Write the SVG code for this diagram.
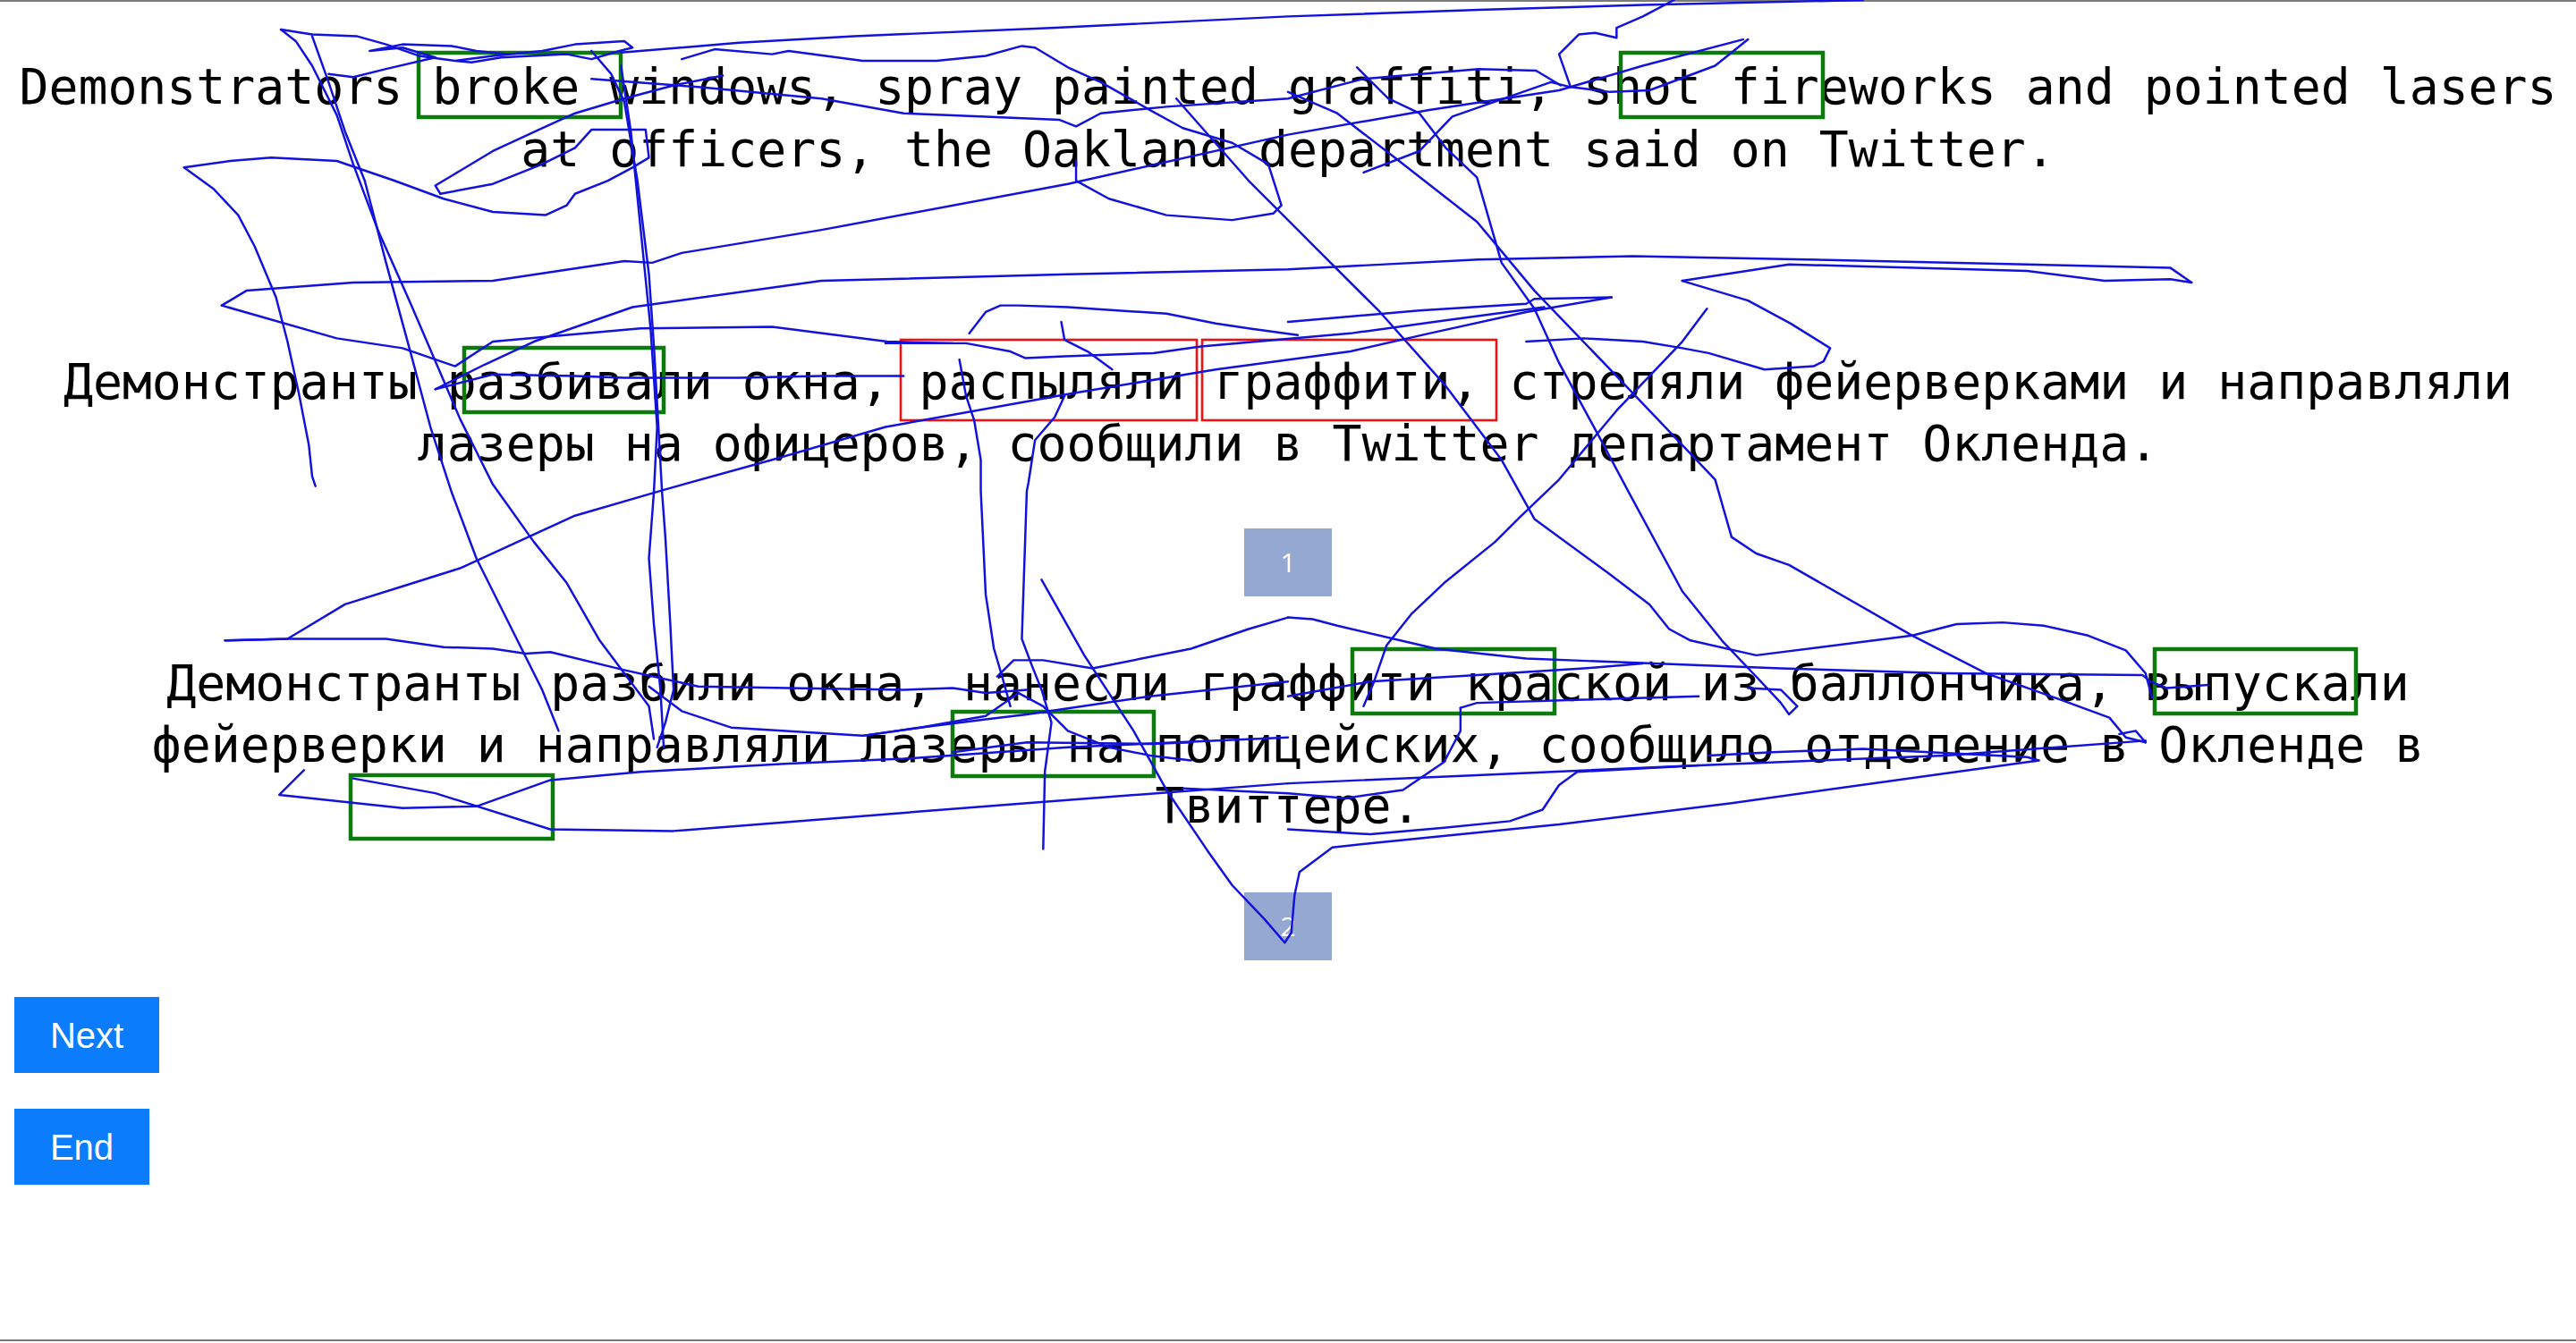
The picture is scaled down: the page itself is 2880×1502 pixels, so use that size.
<svg xmlns="http://www.w3.org/2000/svg" width="2880" height="1502" viewBox="0 0 2880 1502">
<style>
.t{font-family:"DejaVu Sans Mono","Liberation Mono",monospace;font-size:54.8px;fill:#000;text-anchor:middle}
.g{fill:none;stroke:#0d7a0d;stroke-width:4.5}
.r{fill:none;stroke:#ee1111;stroke-width:2.6}
.badge{fill:#94a8d1}
.bt{font-family:"Open Sans","Noto Sans",sans-serif;font-size:30px;fill:#fff;text-anchor:middle}
.btn{fill:#0b7cfc}
.btnt{font-family:"Liberation Sans",Arial,sans-serif;font-size:40px;fill:#fff;text-anchor:middle}
.s polyline{fill:none;stroke:#1212dc;stroke-width:1.35;stroke-linejoin:round;stroke-linecap:round}
</style>
<rect width="2880" height="1502" fill="#fff"/>
<line x1="0" y1="1" x2="2880" y2="1" stroke="#7a7a7a" stroke-width="2"/>
<line x1="0" y1="1499" x2="2880" y2="1499" stroke="#7a7a7a" stroke-width="2"/>

<g id="texts">
<text class="t" x="1440" y="116">Demonstrators broke windows, spray painted graffiti, shot fireworks and pointed lasers</text>
<text class="t" x="1440" y="186">at officers, the Oakland department said on Twitter.</text>
<text class="t" x="1440" y="446">Демонстранты разбивали окна, распыляли граффити, стреляли фейерверками и направляли</text>
<text class="t" x="1440" y="515">лазеры на офицеров, сообщили в Twitter департамент Окленда.</text>
<text class="t" x="1440" y="783">Демонстранты разбили окна, нанесли граффити краской из баллончика, выпускали</text>
<text class="t" x="1440" y="852">фейерверки и направляли лазеры на полицейских, сообщило отделение в Окленде в</text>
<text class="t" x="1440" y="920">Твиттере.</text>
</g>

<g id="boxes">
<rect class="g" x="468" y="59" width="226" height="72"/>
<rect class="g" x="1812" y="59" width="226" height="72"/>
<rect class="g" x="519" y="389" width="223" height="72"/>
<rect class="r" x="1007" y="380" width="331" height="90"/>
<rect class="r" x="1344" y="380" width="329" height="90"/>
<rect class="g" x="1512" y="726" width="226" height="72"/>
<rect class="g" x="2409" y="726" width="225" height="72"/>
<rect class="g" x="1065" y="796" width="225" height="72"/>
<rect class="g" x="392" y="867" width="226" height="71"/>
</g>

<g id="badge1"><rect class="badge" x="1391" y="591" width="98" height="76"/><text class="bt" x="1440" y="640">1</text></g>
<g id="badge2"><rect class="badge" x="1391" y="998" width="98" height="76"/><text class="bt" x="1440" y="1047">2</text></g>

<g id="btnNext"><rect class="btn" x="16" y="1115" width="162" height="85"/><text class="btnt" x="97" y="1172">Next</text></g>
<g id="btnEnd"><rect class="btn" x="16" y="1240" width="151" height="85"/><text class="btnt" x="91.5" y="1297">End</text></g>

<g id="scribbles" class="s" transform="scale(1.83673)">
<polyline points="378,32 450,26 520,22 640,17 784,10 900,6 1000,3 1134,0"/>
<polyline points="171,18 190,21 217,22 235,27 255,34 277,37 300,34 330,31 350,27 380,25 385,29 377,31 360,36 345,33 305,35 287,38 277,37"/>
<polyline points="200,45 215,47 235,42 265,35 245,29 225,31 245,27 275,28 290,31 310,33"/>
<polyline points="171,18 180,25 190,40 205,70 215,100 230,140 250,185 265,220 280,255 300,295 325,330 345,355 365,390 380,410 395,430 398,450"/>
<polyline points="190,22 200,50 210,80 222,110 235,160 250,215 262,260 275,300 290,340 310,380 330,420 340,445"/>
<polyline points="360,31 372,45 380,62 388,110 395,167 398,210 400,246 403,300 405,327 408,380 410,420 405,440 400,455"/>
<polyline points="378,40 384,80 390,140 396,200 400,260 398,300 395,340 398,380 402,420 404,455"/>
<polyline points="192,296 190,290 188,271 182,240 175,208 168,181 155,150 145,131 130,115 112,102 140,98 165,96 205,98 240,110 270,121 300,129 332,131 345,125 350,118 370,110 385,102 395,96 393,79 360,79 350,90 330,100 300,112 268,118"/>
<polyline points="268,118 265,113 280,104 300,92 330,78 350,69 380,60 410,52 440,46"/>
<polyline points="360,48 425,53 500,60 550,69 600,71 645,73 655,77 670,69 710,65 784,60 830,48 900,42 935,43 950,52"/>
<polyline points="135,186 150,177 215,172 300,171 380,159 397,160 415,154 500,140 650,112 784,82 870,67 949,55 1000,40 1061,24"/>
<polyline points="135,186 205,206 245,212 277,223 300,208 390,200 470,199 540,208 580,209"/>
<polyline points="265,237 300,228 350,229 380,230 450,230 500,229 550,229"/>
<polyline points="265,237 295,222 325,208 385,187 500,171 650,167 784,164 900,158 994,156 1100,158 1234,161 1321,163 1334,172"/>
<polyline points="1024,171 1089,161 1234,165 1281,171 1321,170 1334,172"/>
<polyline points="1024,171 1064,183 1090,197 1114,212 1110,220 1104,223 1074,225 1040,215 1024,212 1000,208 964,206 929,208"/>
<polyline points="137,390 175,389 210,368 245,357 280,346 350,314 405,298 470,280 539,260 650,240 740,225 822,214 870,203 929,190 981,181"/>
<polyline points="784,196 864,189 929,185 934,182 981,181"/>
<polyline points="539,209 588,209 615,214 624,218 648,217 702,215 731,211 822,203 880,195 940,187"/>
<polyline points="137,390 175,389 235,389 270,394 300,395 320,398 335,397 380,408 425,418 480,419 550,420 580,419 600,422 625,420"/>
<polyline points="395,418 415,433 445,443 525,448 560,443 600,438 625,435 700,424 784,415"/>
<polyline points="634,353 660,399 690,445 710,481 735,518 750,539 770,560 782,574 786,568 788,545 791,531 811,516 839,513 949,502 1054,489 1241,463"/>
<polyline points="1241,463 1234,461 1134,456 1079,458 1040,460"/>
<polyline points="784,477 899,472 1034,466 1084,464 1184,460 1306,451"/>
<polyline points="716,60 760,110 800,150 840,190 880,235 914,280 934,316 979,349 1004,368 1016,383 1029,390 1069,399 1164,387 1191,380 1219,379 1244,381 1271,387 1294,396 1306,410 1310,425"/>
<polyline points="826,41 845,60 864,69 880,90 899,108 914,160 934,188 949,221 974,267 991,299 1024,360 1049,391 1069,412 1084,428 1089,435 1094,430 1084,420 1064,419"/>
<polyline points="1039,188 1024,208 984,250 949,292 925,315 910,330 879,355 859,374 844,393 836,416 830,430"/>
<polyline points="784,56 814,69 849,96 899,135 934,177 984,229 1044,292 1054,327 1069,337 1089,344 1164,387 1209,410 1254,426 1284,437 1294,449 1306,452"/>
<polyline points="784,376 799,377 814,381 874,395 929,401 1084,407 1184,410 1304,411 1309,415 1319,419 1344,417"/>
<polyline points="784,376 760,383 725,395 665,407 635,402 617,402 607,412"/>
<polyline points="784,424 834,415 899,411 964,407 1000,404"/>
<polyline points="889,431 899,428 964,426 1034,424"/>
<polyline points="889,431 889,445 879,464 854,481 819,486 784,483 760,482 720,480"/>
<polyline points="784,505 834,508 879,504 919,500 939,493 949,478 960,470 1034,466"/>
<polyline points="185,469 170,484 245,492 290,491 335,475 390,470 480,465 550,462 650,455 784,449"/>
<polyline points="215,474 265,483 335,505 410,506 625,489 784,477"/>
<polyline points="525,448 560,443 600,436 620,422 635,430 650,445 675,455 700,460 725,463"/>
<polyline points="580,458 625,452 700,453 725,452"/>
<polyline points="584,219 588,241 593,256 597,280 597,299 600,362 605,395 610,412 615,430"/>
<polyline points="646,196 648,207 662,214 677,225"/>
<polyline points="648,241 642,254 630,268 626,294 625,299 622,389 628,405 634,420 640,440 636,470 635,517"/>
<polyline points="590,203 600,190 609,186 620,186 650,187 710,191 740,197 760,200 790,204"/>
<polyline points="655,98 655,110 675,121 710,131 750,134 775,130 780,125 772,100 750,87 720,78 700,67 670,50 650,41 630,29 622,28 600,34 570,37 525,37 480,31 470,33 435,30 415,36"/>
<polyline points="1019,0 1000,10 984,17 984,23 971,20 961,21 949,33 956,53"/>
<polyline points="1064,24 1044,40 1004,55 980,56 956,53 944,50 884,71 864,92 830,105"/>
<polyline points="1306,452 1300,445 1290,447"/>
</g>
</svg>
